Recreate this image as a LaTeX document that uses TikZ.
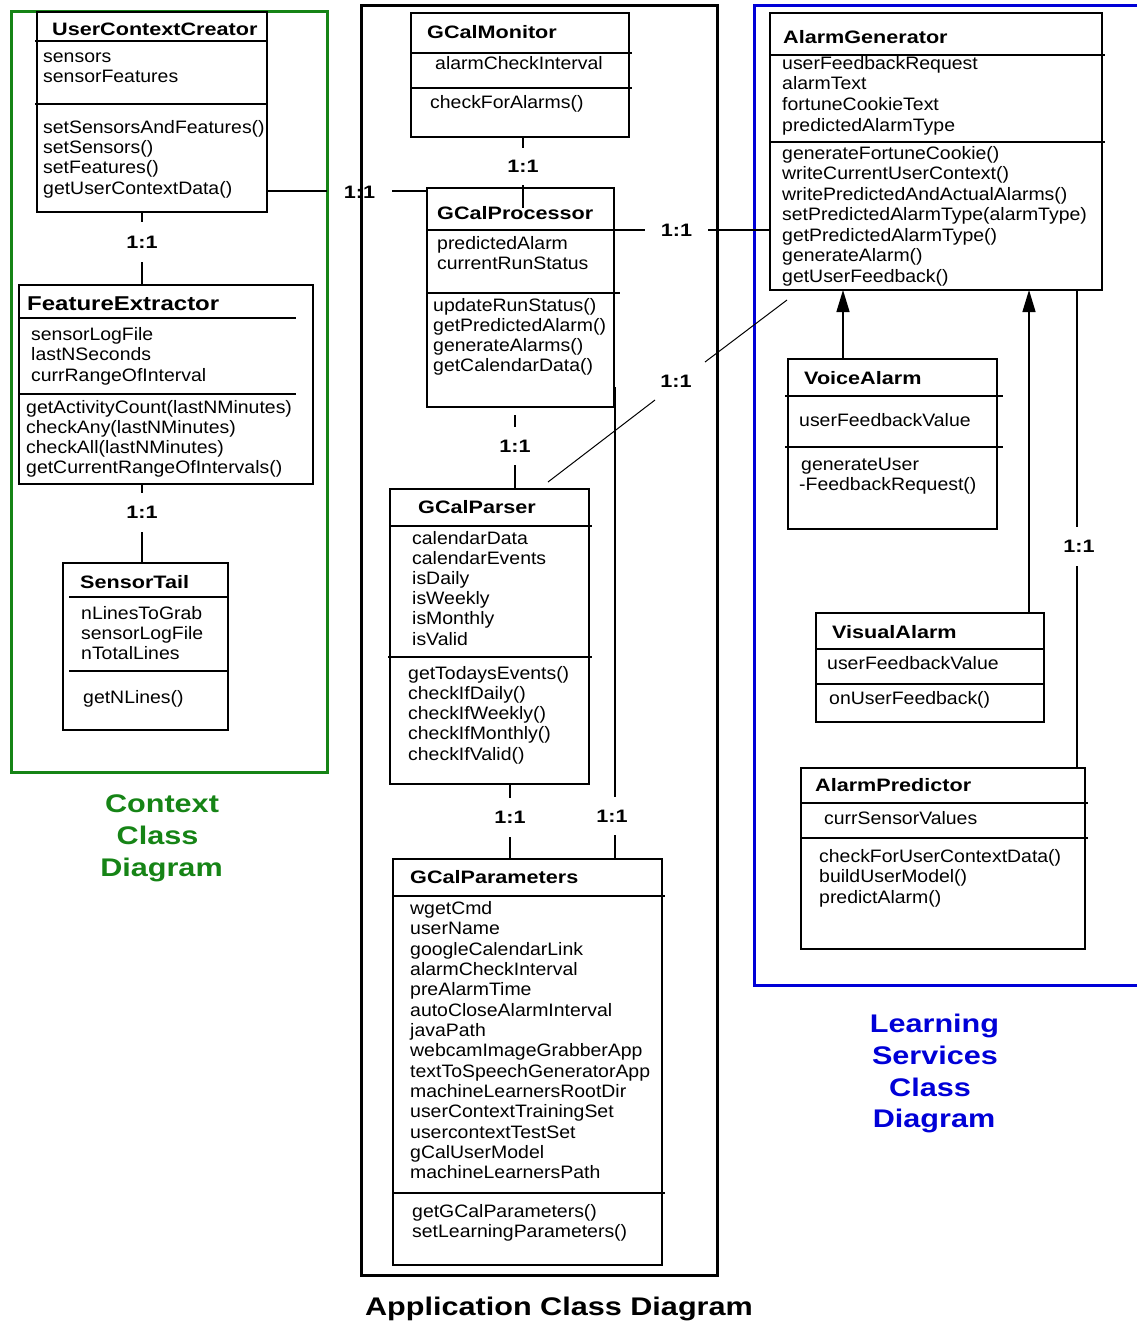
\documentclass[tikz,border=0pt]{standalone}
\usepackage{fontspec}
\setmainfont{Liberation Sans}[FakeStretch=1.08, BoldFeatures={FakeStretch=1.2}]
\usetikzlibrary{arrows.meta}
\definecolor{ctxgreen}{RGB}{22,132,22}
\definecolor{lrnblue}{RGB}{0,0,215}
\begin{document}
\begin{tikzpicture}[x=1pt,y=-1pt,
  cls/.style={draw, line width=1.4pt, inner sep=0pt, outer sep=0pt, anchor=north west},
  sep/.style={line width=1.2pt},
  conn/.style={line width=1.4pt},
  inh/.style={line width=1.4pt, -{Triangle[width=13pt,length=22pt]}},
  txt/.style={inner sep=0pt, anchor=base west, font=\fontsize{18}{20}\selectfont},
  ttl/.style={inner sep=0pt, anchor=base west, font=\fontsize{18}{20}\selectfont\bfseries},
  lblv/.style={inner sep=0pt, minimum height=#1, font=\fontsize{18}{20}\selectfont\bfseries},
  lblh/.style={inner sep=0pt, minimum width=#1, font=\fontsize{18}{20}\selectfont\bfseries},
  big/.style={inner sep=0pt, anchor=base, font=\fontsize{25.5}{32}\selectfont\bfseries},
  frame/.style={line width=3pt}]
\useasboundingbox (0,0) rectangle (1137,1323);

% ---------------- package frames ----------------
\draw[frame, ctxgreen] (11,11) rectangle (327,772);
\draw[frame, black] (361,5) rectangle (717,1275);
\draw[frame, lrnblue] (1137,5) -- (754,5) -- (754,985) -- (1137,985);

% ---------------- Context classes ----------------
\node[cls, minimum width=230pt, minimum height=200pt] (ucc) at (37,12) {};
\draw[sep] (35,41) -- (267,41);
\draw[sep] (35,104) -- (267,104);
\node[ttl] (ucc-t) at (52,35) {UserContextCreator};
\foreach \t [count=\i from 0] in {sensors, sensorFeatures}
  \node[txt] (ucc-a\i) at (43,62+20.4*\i) {\t};
\foreach \t [count=\i from 0] in {setSensorsAndFeatures(), setSensors(), setFeatures(), getUserContextData()}
  \node[txt] (ucc-m\i) at (43,133+20.4*\i) {\t};

\node[cls, minimum width=294pt, minimum height=199pt] (fe) at (19,285) {};
\draw[sep] (19,318) -- (296,318);
\draw[sep] (19,394) -- (296,394);
\node[ttl, font=\fontsize{20}{22}\selectfont\bfseries] (fe-t) at (27,310) {FeatureExtractor};
\foreach \t [count=\i from 0] in {sensorLogFile, lastNSeconds, currRangeOfInterval}
  \node[txt] (fe-a\i) at (31,340+20.5*\i) {\t};
\foreach \t [count=\i from 0] in {getActivityCount(lastNMinutes), checkAny(lastNMinutes), checkAll(lastNMinutes), getCurrentRangeOfIntervals()}
  \node[txt] (fe-m\i) at (26,413+20.2*\i) {\t};

\node[cls, minimum width=165pt, minimum height=167pt] (st) at (63,563) {};
\draw[sep] (69,597) -- (228,597);
\draw[sep] (69,671) -- (228,671);
\node[ttl] (st-t) at (80,588) {SensorTail};
\foreach \t [count=\i from 0] in {nLinesToGrab, sensorLogFile, nTotalLines}
  \node[txt] (st-a\i) at (81,619+20.2*\i) {\t};
\node[txt] (st-m0) at (83,703) {getNLines()};

% ---------------- Application classes ----------------
\node[cls, minimum width=218pt, minimum height=124pt] (gcm) at (411,13) {};
\draw[sep] (411,53) -- (632,53);
\draw[sep] (411,88) -- (632,88);
\node[ttl] (gcm-t) at (427,38) {GCalMonitor};
\node[txt] (gcm-a0) at (435,69) {alarmCheckInterval};
\node[txt] (gcm-m0) at (430,108) {checkForAlarms()};

\node[cls, minimum width=187pt, minimum height=219pt] (gcp) at (427,188) {};
\draw[sep] (427,230) -- (614,230);
\draw[sep] (427,293) -- (620,293);
\node[ttl] (gcp-t) at (437,219) {GCalProcessor};
\foreach \t [count=\i from 0] in {predictedAlarm, currentRunStatus}
  \node[txt] (gcp-a\i) at (437,249+20.2*\i) {\t};
\foreach \t [count=\i from 0] in {updateRunStatus(), getPredictedAlarm(), generateAlarms(), getCalendarData()}
  \node[txt] (gcp-m\i) at (433,311+20.3*\i) {\t};

\node[cls, minimum width=199pt, minimum height=295pt] (gpr) at (390,489) {};
\draw[sep] (390,526) -- (592,526);
\draw[sep] (388,657) -- (592,657);
\node[ttl] (gpr-t) at (418,513) {GCalParser};
\foreach \t [count=\i from 0] in {calendarData, calendarEvents, isDaily, isWeekly, isMonthly, isValid}
  \node[txt] (gpr-a\i) at (412,544+20.2*\i) {\t};
\foreach \t [count=\i from 0] in {getTodaysEvents(), checkIfDaily(), checkIfWeekly(), checkIfMonthly(), checkIfValid()}
  \node[txt] (gpr-m\i) at (408,679+20.25*\i) {\t};

\node[cls, minimum width=269pt, minimum height=406pt] (gpa) at (393,859) {};
\draw[sep] (393,896) -- (665,896);
\draw[sep] (393,1193) -- (665,1193);
\node[ttl] (gpa-t) at (410,883) {GCalParameters};
\foreach \t [count=\i from 0] in {wgetCmd, userName, googleCalendarLink, alarmCheckInterval, preAlarmTime, autoCloseAlarmInterval, javaPath, webcamImageGrabberApp, textToSpeechGeneratorApp, machineLearnersRootDir, userContextTrainingSet, usercontextTestSet, gCalUserModel, machineLearnersPath}
  \node[txt] (gpa-a\i) at (410,914.3+20.35*\i) {\t};
\foreach \t [count=\i from 0] in {getGCalParameters(), setLearningParameters()}
  \node[txt] (gpa-m\i) at (412,1217+20*\i) {\t};

% ---------------- Learning services classes ----------------
\node[cls, minimum width=332pt, minimum height=277pt] (ag) at (770,13) {};
\draw[sep] (770,55) -- (1105,55);
\draw[sep] (770,142) -- (1105,142);
\node[ttl] (ag-t) at (783,43) {AlarmGenerator};
\foreach \t [count=\i from 0] in {userFeedbackRequest, alarmText, fortuneCookieText, predictedAlarmType}
  \node[txt] (ag-a\i) at (782,69+20.7*\i) {\t};
\foreach \t [count=\i from 0] in {generateFortuneCookie(), writeCurrentUserContext(), writePredictedAndActualAlarms(), setPredictedAlarmType(alarmType), getPredictedAlarmType(), generateAlarm(), getUserFeedback()}
  \node[txt] (ag-m\i) at (782,159+20.5*\i) {\t};

\node[cls, minimum width=209pt, minimum height=170pt] (va) at (788,359) {};
\draw[sep] (785,396) -- (1003,396);
\draw[sep] (785,447) -- (1003,447);
\node[ttl] (va-t) at (804,384) {VoiceAlarm};
\node[txt] (va-a0) at (799,426) {userFeedbackValue};
\node[txt] (va-m0) at (801,470) {generateUser};
\node[txt] (va-m1) at (799,490) {-FeedbackRequest()};

\node[cls, minimum width=228pt, minimum height=109pt] (vis) at (816,613) {};
\draw[sep] (816,649) -- (1044,649);
\draw[sep] (816,684) -- (1044,684);
\node[ttl] (vis-t) at (832,638) {VisualAlarm};
\node[txt] (vis-a0) at (827,669) {userFeedbackValue};
\node[txt] (vis-m0) at (829,704) {onUserFeedback()};

\node[cls, minimum width=284pt, minimum height=181pt] (ap) at (801,768) {};
\draw[sep] (801,803) -- (1088,803);
\draw[sep] (801,838) -- (1088,838);
\node[ttl] (ap-t) at (815,791) {AlarmPredictor};
\node[txt] (ap-a0) at (824,824) {currSensorValues};
\foreach \t [count=\i from 0] in {checkForUserContextData(), buildUserModel(), predictAlarm()}
  \node[txt] (ap-m\i) at (819,862+20.5*\i) {\t};

% ---------------- associations ----------------
% UserContextCreator -- GCalProcessor
\node[lblh=65pt] (l1) at (359.5,192) {1:1};
\draw[conn] (ucc.east |- l1) ++(0,-1) coordinate (u1) -- (u1 -| l1.west);
\draw[conn] (l1.east |- u1) -- (gcp.west |- u1);
% UserContextCreator -- FeatureExtractor
\node[lblv=40pt] (l2) at (142,242) {1:1};
\draw[conn] (ucc.south -| l2) -- (l2.north);
\draw[conn] (l2.south) -- (fe.north -| l2);
% FeatureExtractor -- SensorTail
\node[lblv=39pt] (l3) at (142,512.5) {1:1};
\draw[conn] (fe.south -| l3) -- (l3.north);
\draw[conn] (l3.south) -- (st.north -| l3);
% GCalMonitor -- GCalProcessor
\node[lblv=37pt] (l4) at (523,166.5) {1:1};
\draw[conn] (gcm.south -| l4) -- (l4.north);
\draw[conn] (l4.south) -- ([yshift=-20pt]gcp.north -| l4);
% GCalProcessor -- GCalParser
\node[lblv=38pt] (l5) at (515,446) {1:1};
\draw[conn] ([yshift=-8pt]gcp.south -| l5) -- (l5.north);
\draw[conn] (l5.south) -- (gpr.north -| l5);
% GCalParser -- GCalParameters
\node[lblv=39pt] (l6) at (510,817.5) {1:1};
\draw[conn] (gpr.south -| l6) -- (l6.north);
\draw[conn] (l6.south) -- (gpa.north -| l6);
% GCalProcessor -- GCalParameters
\node[lblv=38pt] (l7) at (612,816) {1:1};
\coordinate (p7) at ([xshift=1pt,yshift=20pt]gcp.south east);
\draw[conn] (p7) -- (p7 |- l7.north);
\draw[conn] (p7 |- l7.south) -- (p7 |- gpa.north);
% GCalProcessor -- AlarmGenerator
\node[lblh=63pt] (l8) at (676.5,230) {1:1};
\draw[conn] (gcp.east |- l8) -- (l8.west);
\draw[conn] (l8.east) -- (ag.west |- l8);
% GCalParser -- AlarmGenerator
\node[lblv=10pt] (l9) at (676,381) {1:1};
\coordinate (d1) at (548,482);
\coordinate (d2) at (655,400);
\coordinate (d3) at (705,362);
\coordinate (d4) at (787,300);
\draw[line width=1pt] (d1) -- (d2);
\draw[line width=1pt] (d3) -- (d4);
% AlarmPredictor -- AlarmGenerator
\node[lblv=39pt] (l10) at (1079,546.5) {1:1};
\coordinate (p10) at ([xshift=-8pt]ap.north east);
\draw[conn] (p10 |- ag.south) -- (p10 |- l10.north);
\draw[conn] (p10 |- l10.south) -- (p10);

% ---------------- generalisations ----------------
\coordinate (g1) at ([xshift=55pt]va.north west);
\draw[inh] (g1) -- (g1 |- ag.south);
\coordinate (g2) at ([xshift=-15pt]vis.north east);
\draw[inh] (g2) -- (g2 |- ag.south);

% ---------------- package captions ----------------
\node[big, text=ctxgreen] (cap1a) at (162,812) {Context};
\node[big, text=ctxgreen] (cap1b) at (157.5,844) {Class};
\node[big, text=ctxgreen] (cap1c) at (161.5,876) {Diagram};
\node[big] (cap2) at (559,1315) {Application Class Diagram};
\node[big, text=lrnblue] (cap3a) at (934.5,1032) {Learning};
\node[big, text=lrnblue] (cap3b) at (935,1064) {Services};
\node[big, text=lrnblue] (cap3c) at (930,1096) {Class};
\node[big, text=lrnblue] (cap3d) at (934,1127) {Diagram};
\end{tikzpicture}
\end{document}
